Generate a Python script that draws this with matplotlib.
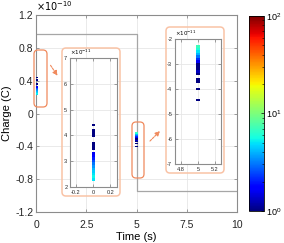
import matplotlib
matplotlib.use('Agg')
import matplotlib.pyplot as plt
from matplotlib.colors import LogNorm
from matplotlib.cm import ScalarMappable
from matplotlib.patches import FancyBboxPatch, FancyArrowPatch
from matplotlib.transforms import IdentityTransform
from matplotlib.ticker import FuncFormatter

plt.rcParams['font.family'] = ['Liberation Sans', 'DejaVu Sans']
plt.rcParams['axes.unicode_minus'] = False

# charge bins (x1e-11 C) and event counts, t = 0 s
q0 = [2.3, 2.4, 2.5, 2.6, 2.7, 2.8, 2.9, 3.0, 3.1, 3.2, 3.3, 3.5, 3.6, 3.7, 4.0, 4.1, 4.2, 4.4]
n0 = [5, 5.5, 5, 4.5, 4, 3.5, 3, 2.5, 2, 1.8, 1.6, 1, 1, 1, 1, 1, 1, 1]
# charge bins (x1e-11 C) and event counts, t = 5 s
q5 = [-2.3, -2.4, -2.5, -2.6, -2.7, -2.8, -2.9, -3.0, -3.1, -3.2, -3.3, -3.4, -3.6, -3.7, -4.0, -4.45]
n5 = [7, 6, 5, 4, 3, 2.2, 1.6, 1, 1, 1, 1.3, 1, 1, 1, 1, 1]
# gray reference step (x1e-10 C)
step_t = [0, 5, 5, 10]
step_q = [0.97, 0.97, -0.95, -0.95]

W, H = 284, 243
fig = plt.figure(figsize=(W / 100, H / 100), dpi=100)
norm = LogNorm(1, 100)
cmap = plt.get_cmap('jet')
binh = 0.1e-11
orange = '#f08a5d'
light = '#f9c3a6'
axcol = '#8c8c8c'


def rect(l, t, r, b):
    return [l / W, 1 - b / H, (r - l) / W, (b - t) / H]


def cells(ax, t, q, n, w):
    qq = [v * 1e-11 for v in q]
    ax.bar([t] * len(q), [binh] * len(q), bottom=[v - binh / 2 for v in qq], width=w,
           color=[cmap(norm(c)) for c in n], linewidth=0, zorder=3)


def style(ax, fs):
    for s in ax.spines.values():
        s.set_color(axcol)
        s.set_linewidth(0.8)
    ax.tick_params(direction='in', length=2, width=0.6, color=axcol, labelsize=fs,
                   labelcolor='#262626', top=True, right=True, pad=2)
    ax.grid(True, color='#e6e6e6', linewidth=0.6)
    ax.set_axisbelow(True)


# main axes
ax = fig.add_axes(rect(36, 15, 237, 212))
style(ax, 7.5)
ax.plot(step_t, [v * 1e-10 for v in step_q], color='#a6a6a6', linewidth=0.9, zorder=2)
cells(ax, 0, q0, n0, 0.15)
cells(ax, 5, q5, n5, 0.1)
ax.set_xlim(0, 10)
ax.set_ylim(-1.2e-10, 1.2e-10)
ax.set_xticks([0, 2.5, 5, 7.5, 10])
ax.set_xticklabels(['0', '2.5', '5', '7.5', '10'])
ax.set_yticks([-1.2e-10, -0.8e-10, -0.4e-10, 0, 0.4e-10, 0.8e-10, 1.2e-10])
ax.yaxis.set_major_formatter(FuncFormatter(lambda v, p: f'{v / 1e-10:g}'))
ax.tick_params(axis='x', pad=6)
ax.set_xlabel('Time (s)', fontsize=8, labelpad=1)
ax.set_ylabel('Charge (C)', fontsize=8, labelpad=2)
ax.text(0, 1.01, r'$\times10^{-10}$', transform=ax.transAxes, fontsize=7, va='bottom')

# colorbar
cax = fig.add_axes(rect(249, 16, 264, 211))
cb = fig.colorbar(ScalarMappable(norm=norm, cmap=cmap), cax=cax)
cb.outline.set_linewidth(0.6)
cax.tick_params(labelsize=6.5, direction='in', length=2, width=0.5, pad=1.5)
cax.tick_params(which='minor', direction='in', length=1.2, width=0.4)

# inset at t = 0
a1 = fig.add_axes(rect(70, 58, 117, 187))
style(a1, 4)
cells(a1, 0, q0, n0, 0.035)
a1.set_xlim(-0.27, 0.28)
a1.set_ylim(2e-11, 7e-11)
a1.set_xticks([-0.2, 0, 0.2])
a1.set_xticklabels(['-0.2', '0', '0.2'])
a1.set_yticks([v * 1e-11 for v in range(2, 8)])
a1.yaxis.set_major_formatter(FuncFormatter(lambda v, p: f'{v / 1e-11:.0f}'))
a1.text(0, 1.01, r'$\times10^{-11}$', transform=a1.transAxes, fontsize=4, va='bottom')

# inset at t = 5
a2 = fig.add_axes(rect(175, 39, 221, 164))
style(a2, 4)
cells(a2, 5, q5, n5, 0.045)
a2.set_xlim(4.73, 5.27)
a2.set_ylim(-7e-11, -2e-11)
a2.set_xticks([4.8, 5, 5.2])
a2.set_xticklabels(['4.8', '5', '5.2'])
a2.set_yticks([v * 1e-11 for v in range(-7, -1)])
a2.yaxis.set_major_formatter(FuncFormatter(lambda v, p: f'{v / 1e-11:.0f}'))
a2.text(0, 1.01, r'$\times10^{-11}$', transform=a2.transAxes, fontsize=4, va='bottom')

# highlight boxes and arrows (pixel coords, y from top)
def box(l, t, r, b, col, lw):
    p = FancyBboxPatch((l, H - b), r - l, b - t, boxstyle='round,pad=0,rounding_size=4',
                       transform=IdentityTransform(), fill=False, edgecolor=col, linewidth=lw)
    fig.patches.append(p)


def arrow(x0, y0, x1, y1):
    a = FancyArrowPatch((x0, H - y0), (x1, H - y1), arrowstyle='-|>', mutation_scale=7,
                        transform=IdentityTransform(), color=orange, linewidth=0.8,
                        linestyle=(0, (2, 1)))
    fig.patches.append(a)


box(62, 48, 120, 196, light, 1.1)
box(166, 27, 224, 173, light, 1.1)
box(34, 50, 47, 107, orange, 0.9)
box(132, 122, 144, 178, orange, 0.9)
arrow(49, 63, 59, 78)
arrow(148, 143, 162, 129)

fig.savefig('out.png', dpi=100)
